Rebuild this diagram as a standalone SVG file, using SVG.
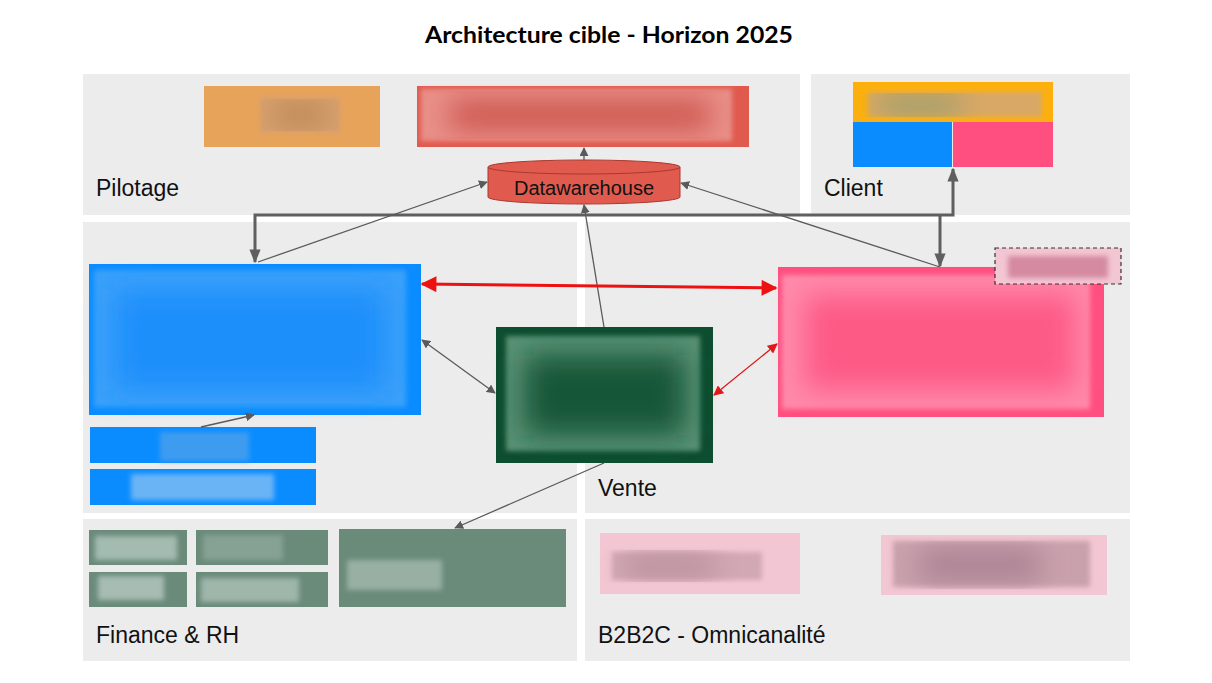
<svg xmlns="http://www.w3.org/2000/svg" width="1212" height="683" viewBox="0 0 1212 683">
<style>
.panel{fill:#ececec}
.lbl{font-family:"Liberation Sans",Arial,sans-serif;font-size:23px;fill:#111}
.thin{fill:none;stroke:#5a5a5a;stroke-width:1.3}
.thick{fill:none;stroke:#5f5f5f;stroke-width:3}
.blur{filter:url(#bl)}
.blur2{filter:url(#bl2)}
</style>
<defs>
<filter id="bl" x="-20%" y="-20%" width="140%" height="140%"><feGaussianBlur stdDeviation="2.5"/></filter>
<filter id="bl2" x="-30%" y="-30%" width="160%" height="160%"><feGaussianBlur stdDeviation="14"/></filter>
<marker id="ag" viewBox="0 0 10 10" refX="9" refY="5" markerWidth="9" markerHeight="9" markerUnits="userSpaceOnUse" orient="auto-start-reverse"><path d="M0,0L10,5L0,10z" fill="#5a5a5a"/></marker>
<marker id="agT" viewBox="0 0 10 10" refX="9" refY="5" markerWidth="14" markerHeight="14" markerUnits="userSpaceOnUse" orient="auto-start-reverse"><path d="M0,1L10,5L0,9z" fill="#5f5f5f"/></marker>
<marker id="arT" viewBox="0 0 10 10" refX="9" refY="5" markerWidth="20" markerHeight="16" markerUnits="userSpaceOnUse" orient="auto-start-reverse"><path d="M0,0L10,5L0,10z" fill="#ee1111"/></marker>
<marker id="ar" viewBox="0 0 10 10" refX="9" refY="5" markerWidth="10" markerHeight="10" markerUnits="userSpaceOnUse" orient="auto-start-reverse"><path d="M0,0L10,5L0,10z" fill="#e01818"/></marker>
</defs>
<rect width="1212" height="683" fill="#fff"/>
<text x="425" y="43" textLength="368" lengthAdjust="spacingAndGlyphs" font-family="Lato,'Noto Sans',sans-serif" font-weight="bold" font-size="22" fill="#000">Architecture cible - Horizon 2025</text>

<g id="panel-pilotage"><rect class="panel" x="83" y="74" width="717" height="141"/><text class="lbl" x="96" y="196">Pilotage</text></g>
<g id="panel-client"><rect class="panel" x="811" y="74" width="319" height="141"/><text class="lbl" x="824" y="196">Client</text></g>
<g id="panel-left"><rect class="panel" x="83" y="222" width="494" height="291"/></g>
<g id="panel-vente"><rect class="panel" x="585" y="222" width="545" height="291"/><text class="lbl" x="598" y="496">Vente</text></g>
<g id="panel-finance"><rect class="panel" x="83" y="519" width="494" height="142"/><text class="lbl" x="96" y="643">Finance &amp; RH</text></g>
<g id="panel-b2b2c"><rect class="panel" x="585" y="519" width="545" height="142"/><text class="lbl" x="598" y="643">B2B2C - Omnicanalité</text></g>

<g id="node-orange"><rect x="204" y="86" width="176" height="61" fill="#e8a35b"/><rect class="blur" x="260" y="97" width="80" height="36" fill="#d6a06e"/><rect class="blur2" x="275" y="105" width="50" height="20" fill="#b8824f"/></g>
<g id="node-red"><rect x="417" y="86" width="332" height="61" fill="#e05a4e"/><rect class="blur" x="421" y="89" width="311" height="52" fill="#e99089"/><rect class="blur2" x="450" y="100" width="260" height="30" fill="#cc554d"/></g>
<g id="node-datawarehouse">
<path d="M488,167 L488,197 A96,7 0 0 0 680,197 L680,167" fill="#e05a4e" stroke="#a8392f" stroke-width="1"/>
<ellipse cx="584" cy="167" rx="96" ry="7" fill="#e05a4e" stroke="#a8392f" stroke-width="1"/>
<text x="584" y="195" text-anchor="middle" font-family="'Liberation Sans',Arial,sans-serif" font-size="20" fill="#111">Datawarehouse</text>
</g>
<g id="node-client">
<rect x="853" y="82" width="200" height="40" fill="#fdb00c"/>
<rect class="blur" x="868" y="92" width="174" height="25" fill="#d9a866"/>
<rect class="blur2" x="880" y="98" width="80" height="14" fill="#7a9a70"/>
<rect x="853" y="122" width="99" height="45" fill="#0a8cff"/>
<rect x="953" y="122" width="100" height="45" fill="#ff4f80"/>
</g>
<g id="node-blue-main"><rect x="89" y="264" width="332" height="151" fill="#0a8cff"/><rect class="blur" x="94" y="270" width="312" height="137" fill="#3aa0fa"/><rect class="blur2" x="115" y="290" width="270" height="100" fill="#1a8ffb"/></g>
<g id="node-blue-1"><rect x="90" y="427" width="226" height="36" fill="#0a8cff"/><rect class="blur" x="160" y="432" width="89" height="29" fill="#3d9cf0"/></g>
<g id="node-blue-2"><rect x="90" y="469" width="226" height="36" fill="#0a8cff"/><rect class="blur" x="131" y="474" width="143" height="26" fill="#6bb4f5"/></g>
<g id="node-green"><rect x="496" y="327" width="217" height="136" fill="#0d4d30"/><rect class="blur" x="506" y="336" width="194" height="115" fill="#5a9275"/><rect class="blur2" x="525" y="355" width="160" height="80" fill="#145637"/></g>
<g id="node-pink-main"><rect x="778" y="267" width="326" height="150" fill="#ff4f80"/><rect class="blur" x="782" y="275" width="308" height="134" fill="#ff8aaa"/><rect class="blur2" x="805" y="295" width="270" height="95" fill="#fd5a86"/></g>
<g id="node-pink-small"><rect x="995" y="248" width="126" height="36" fill="#f3c6d3" stroke="#333" stroke-width="1.2" stroke-dasharray="4,3"/><rect class="blur" x="1008" y="256" width="100" height="22" fill="#d58aa2"/></g>
<g id="node-fin-1"><rect x="89" y="530" width="98" height="35" fill="#6a8a7a"/><rect class="blur" x="95" y="536" width="82" height="24" fill="#a3bbb0"/></g>
<g id="node-fin-2"><rect x="196" y="530" width="132" height="35" fill="#6a8a7a"/><rect class="blur" x="203" y="535" width="80" height="25" fill="#86a294"/></g>
<g id="node-fin-3"><rect x="89" y="572" width="98" height="35" fill="#6a8a7a"/><rect class="blur" x="98" y="576" width="66" height="24" fill="#a7bcb2"/></g>
<g id="node-fin-4"><rect x="196" y="572" width="132" height="35" fill="#6a8a7a"/><rect class="blur" x="201" y="578" width="98" height="24" fill="#9fb6ab"/></g>
<g id="node-fin-big"><rect x="339" y="529" width="227" height="78" fill="#6a8a7a"/><rect class="blur" x="347" y="560" width="95" height="30" fill="#97b0a3"/></g>
<g id="node-b2b-1"><rect x="600" y="533" width="200" height="61" fill="#f3c6d3"/><rect class="blur" x="612" y="552" width="150" height="28" fill="#d3a8b5"/><rect class="blur2" x="625" y="556" width="90" height="20" fill="#b58a98"/></g>
<g id="node-b2b-2"><rect x="881" y="535" width="226" height="60" fill="#f3c6d3"/><rect class="blur" x="893" y="541" width="197" height="46" fill="#c9a1ad"/><rect class="blur2" x="920" y="550" width="120" height="30" fill="#a88090"/></g>

<g id="connectors">
<polyline class="thick" points="255,262 255,215 953,215 953,169" marker-start="url(#agT)" marker-end="url(#agT)"/>
<line class="thick" x1="940" y1="215" x2="940" y2="266" marker-end="url(#agT)"/>
<line class="thin" x1="584" y1="160" x2="584" y2="148" marker-end="url(#ag)"/>
<line class="thin" x1="258" y1="262" x2="487" y2="182" marker-end="url(#ag)"/>
<line class="thin" x1="940" y1="267" x2="681" y2="183" marker-end="url(#ag)"/>
<line class="thin" x1="604" y1="327" x2="584" y2="205" marker-end="url(#ag)"/>
<line class="thin" x1="201" y1="427" x2="254" y2="415" marker-end="url(#ag)"/>
<line class="thin" x1="422" y1="340" x2="495" y2="393" marker-start="url(#ag)" marker-end="url(#ag)"/>
<line class="thin" x1="604" y1="463" x2="455" y2="528" marker-end="url(#ag)"/>
<line x1="422" y1="284" x2="776" y2="288" stroke="#ee1111" stroke-width="3" marker-start="url(#arT)" marker-end="url(#arT)"/>
<line x1="714" y1="395" x2="777" y2="344" stroke="#e01818" stroke-width="1.3" marker-start="url(#ar)" marker-end="url(#ar)"/>
</g>
</svg>
